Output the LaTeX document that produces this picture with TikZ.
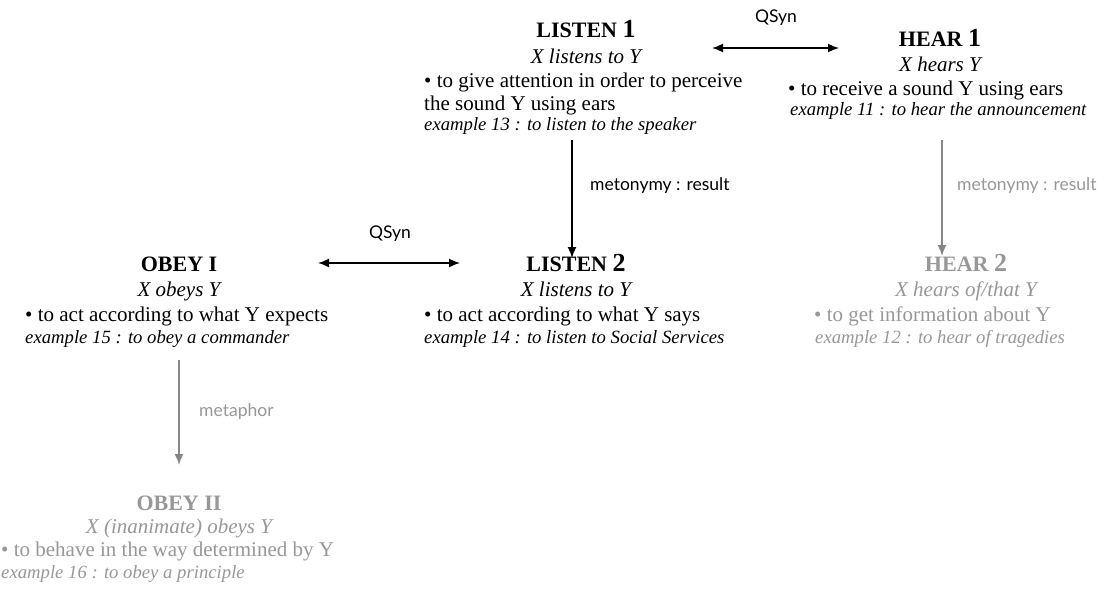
\documentclass[tikz,border=0pt]{standalone}
\usepackage{fontspec}
\setmainfont{Liberation Serif}
\newfontfamily\labfont{Lato}
\usetikzlibrary{arrows.meta}
\definecolor{lg}{RGB}{152,152,152}
\definecolor{ag}{RGB}{135,135,135}
\newcommand\bignum[1]{{\fontsize{26}{26}\selectfont #1}}
\begin{document}
\begin{tikzpicture}[x=1pt,y=-1pt,
  title/.style={anchor=base, font=\bfseries\fontsize{22}{22}\selectfont, inner sep=0pt},
  itl/.style={anchor=base, font=\itshape\fontsize{21}{21}\selectfont, inner sep=0pt},
  body/.style={anchor=base west, font=\fontsize{21}{21}\selectfont, inner sep=0pt},
  ex/.style={anchor=base west, font=\itshape\fontsize{18.7}{18.7}\selectfont, inner sep=0pt},
  lab/.style={font=\labfont\fontsize{17.5}{17.5}\selectfont, inner sep=0pt},
  tip/.tip={Latex[length=11pt,width=9pt]},
  arr/.style={-tip, line width=1.6pt},
  darr/.style={tip-tip, line width=1.6pt},
  faded/.style={text=lg}]
\useasboundingbox[fill=white] (0,0) rectangle (1116,589);
% LISTEN 1
\node[title] (l1t) at (586,37) {LISTEN \bignum{1}};
\node[itl] (l1i) at (586,63) {X listens to Y};
\node[body] (l1b) at (424,87) {\textbullet\ to give attention in order to perceive};
\node[body] (l1c) at (424,110) {the sound Y using ears};
\node[ex] (l1e) at (424,130) {example 13 : to listen to the speaker};
% HEAR 1
\node[title] (h1t) at (940,46) {HEAR \bignum{1}};
\node[itl] (h1i) at (940,71) {X hears Y};
\node[body] (h1b) at (788,95) {\textbullet\ to receive a sound Y using ears};
\node[ex] (h1e) at (790,115) {example 11 : to hear the announcement};
% OBEY I
\node[title] (o1t) at (179,271) {OBEY I};
\node[itl] (o1i) at (179,296) {X obeys Y};
\node[body] (o1b) at (25,321) {\textbullet\ to act according to what Y expects};
\node[ex] (o1e) at (25,343) {example 15 : to obey a commander};
% LISTEN 2
\node[title] (l2t) at (576,271) {LISTEN \bignum{2}};
\node[itl] (l2i) at (576,296) {X listens to Y};
\node[body] (l2b) at (424,321) {\textbullet\ to act according to what Y says};
\node[ex] (l2e) at (424,343) {example 14 : to listen to Social Services};
% HEAR 2
\node[title,faded] (h2t) at (966,271) {HEAR \bignum{2}};
\node[itl,faded] (h2i) at (966,296) {X hears of/that Y};
\node[body,faded] (h2b) at (814,321) {\textbullet\ to get information about Y};
\node[ex,faded] (h2e) at (815,343) {example 12 : to hear of tragedies};
% OBEY II
\node[title,faded] (o2t) at (179,510) {OBEY II};
\node[itl,faded] (o2i) at (179,533) {X (inanimate) obeys Y};
\node[body,faded] (o2b) at (1,556) {\textbullet\ to behave in the way determined by Y};
\node[ex,faded] (o2e) at (1,578) {example 16 : to obey a principle};
% connector end points
\coordinate (q1a) at (712,48);
\coordinate (q1b) at (839,48);
\coordinate (m1a) at (572,140);
\coordinate (m1b) at (572,258);
\coordinate (m2a) at (942,140);
\coordinate (m2b) at (942,256);
\coordinate (q2a) at (318,263);
\coordinate (q2b) at (460,263);
\coordinate (mpa) at (179,360);
\coordinate (mpb) at (179,465);
% connectors
\draw[darr] (q1a) -- (q1b);
\node[lab] (q1l) at (776,18) {QSyn};
\draw[arr] (m1a) -- (m1b);
\node[lab,anchor=west] (m1l) at (590,186) {metonymy : result};
\draw[arr,ag] (m2a) -- (m2b);
\node[lab,anchor=west,text=lg] (m2l) at (957,186) {metonymy : result};
\draw[darr] (q2a) -- (q2b);
\node[lab] (q2l) at (390,234) {QSyn};
\draw[arr,ag] (mpa) -- (mpb);
\node[lab,anchor=west,text=lg] (mpl) at (199,412) {metaphor};
\end{tikzpicture}
\end{document}
